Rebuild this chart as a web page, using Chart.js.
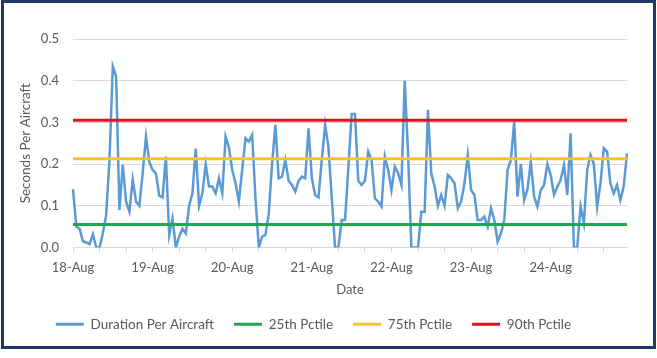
<!DOCTYPE html>
<html lang="en">
<head>
    <meta charset="UTF-8">
    <title>Duration Per Aircraft</title>
    <style>
        body {
            margin: 0;
            background: #ffffff;
        }
        #wrap {
            position: relative;
            width: 657px;
            height: 358px;
        }
        #frame {
            position: absolute;
            left: 1px;
            top: 0;
            width: 655px;
            height: 349px;
            box-sizing: border-box;
            border: 3px solid #1f3864;
            pointer-events: none;
        }
    </style>
    <script src="https://cdn.jsdelivr.net/npm/chart.js"></script>
</head>
<body>
    <div id="wrap">
        <canvas id="chart" width="657" height="358"></canvas>
        <div id="frame"></div>
    </div>

    <script>
        // days on the axis, hourly readings per day
        const days = ['18-Aug', '19-Aug', '20-Aug', '21-Aug', '22-Aug', '23-Aug', '24-Aug'];
        const hoursPerDay = 24;

        // seconds per aircraft, one value per hour
        const duration = [
            0.14, 0.05, 0.045, 0.015, 0.012, 0.008, 0.032, 0.0, 0.0, 0.034, 0.078, 0.21, 0.434, 0.41, 0.09, 0.198, 0.11, 0.086, 0.163, 0.11, 0.1, 0.178, 0.266, 0.206,
            0.186, 0.178, 0.124, 0.12, 0.218, 0.03, 0.07, 0.0, 0.026, 0.045, 0.034, 0.1, 0.13, 0.237, 0.1, 0.13, 0.2, 0.146, 0.146, 0.13, 0.166, 0.13, 0.266, 0.24,
            0.186, 0.154, 0.11, 0.186, 0.262, 0.254, 0.27, 0.12, 0.0, 0.026, 0.03, 0.08, 0.2, 0.294, 0.166, 0.17, 0.21, 0.16, 0.15, 0.134, 0.16, 0.17, 0.166, 0.286,
            0.166, 0.126, 0.12, 0.21, 0.294, 0.24, 0.12, 0.0, 0.0, 0.066, 0.066, 0.19, 0.32, 0.32, 0.16, 0.15, 0.16, 0.23, 0.21, 0.118, 0.11, 0.098, 0.218, 0.186,
            0.138, 0.194, 0.178, 0.15, 0.4, 0.225, 0.0, 0.0, 0.0, 0.086, 0.086, 0.33, 0.178, 0.146, 0.1, 0.126, 0.1, 0.174, 0.166, 0.154, 0.094, 0.11, 0.154, 0.222,
            0.138, 0.126, 0.066, 0.066, 0.074, 0.05, 0.094, 0.066, 0.014, 0.034, 0.066, 0.186, 0.21, 0.302, 0.122, 0.2, 0.114, 0.14, 0.206, 0.122, 0.098, 0.138, 0.15, 0.2,
            0.174, 0.126, 0.146, 0.162, 0.198, 0.126, 0.274, 0.0, 0.0, 0.098, 0.058, 0.186, 0.222, 0.2, 0.098, 0.154, 0.238, 0.23, 0.154, 0.13, 0.15, 0.114, 0.146, 0.226
        ];

        // percentile levels
        const pct25 = 0.055;
        const pct75 = 0.213;
        const pct90 = 0.305;

        const yTicks = [0, 0.1, 0.2, 0.3, 0.4, 0.5];

        // one label per hour, the day name on the first hour
        const labels = [];
        days.forEach(d => {
            for (let h = 0; h < hoursPerDay; h++) labels.push(h === 0 ? d : d + ' ' + h + ':00');
        });

        const textColor = '#595959';
        const gridColor = '#d9d9d9';
        const font = { family: 'Lato', size: 13 };

        new Chart(document.getElementById('chart'), {
            type: 'line',
            data: {
                labels: labels,
                datasets: [
                    { label: 'Duration Per Aircraft', data: duration, borderColor: '#5b9bd5', backgroundColor: '#5b9bd5', borderWidth: 2.5, order: 4 },
                    { label: '25th Pctile', data: labels.map(() => pct25), borderColor: '#1fa84f', backgroundColor: '#1fa84f', borderWidth: 3, order: 0 },
                    { label: '75th Pctile', data: labels.map(() => pct75), borderColor: '#f9c22e', backgroundColor: '#f9c22e', borderWidth: 3, order: 0 },
                    { label: '90th Pctile', data: labels.map(() => pct90), borderColor: '#e2121c', backgroundColor: '#e2121c', borderWidth: 3, order: 0 }
                ]
            },
            options: {
                responsive: false,
                animation: false,
                layout: { padding: { left: 0, top: 39, right: 30, bottom: 17 } },
                elements: {
                    point: { radius: 0 },
                    line: { tension: 0 }
                },
                plugins: {
                    tooltip: { enabled: false },
                    legend: {
                        position: 'bottom',
                        labels: {
                            color: textColor,
                            font: { family: 'Lato', size: 13.5 },
                            boxWidth: 28,
                            boxHeight: 3,
                            padding: 20,
                            sort: (a, b) => a.datasetIndex - b.datasetIndex,
                            generateLabels: chart => Chart.defaults.plugins.legend.labels.generateLabels(chart)
                                .map(l => Object.assign(l, { lineWidth: 0, fillStyle: l.strokeStyle }))
                        }
                    }
                },
                scales: {
                    x: {
                        afterFit: s => { s.height = 50; },
                        grid: {
                            drawOnChartArea: false,
                            tickLength: 5,
                            tickColor: ctx => ctx.index % 8 === 0 ? gridColor : 'transparent'
                        },
                        border: { color: gridColor },
                        ticks: {
                            autoSkip: false,
                            maxRotation: 0,
                            padding: 8,
                            color: textColor,
                            font: font,
                            callback: (v, i) => i % hoursPerDay === 0 ? days[i / hoursPerDay] : ''
                        },
                        title: { display: true, text: 'Date', color: textColor, font: font, padding: { top: 4, bottom: 0 } }
                    },
                    y: {
                        min: 0,
                        max: 0.5,
                        afterFit: s => { s.width = 73; },
                        afterBuildTicks: s => { s.ticks = yTicks.map(v => ({ value: v })); },
                        grid: { color: gridColor, drawTicks: false },
                        border: { display: false },
                        ticks: {
                            padding: 14,
                            color: textColor,
                            font: font,
                            callback: v => v.toFixed(1)
                        },
                        title: { display: true, text: 'Seconds Per Aircraft', color: textColor, font: { family: 'Lato', size: 13.5 }, padding: { top: 18, bottom: 0 } }
                    }
                }
            }
        });
    </script>
</body>
</html>
